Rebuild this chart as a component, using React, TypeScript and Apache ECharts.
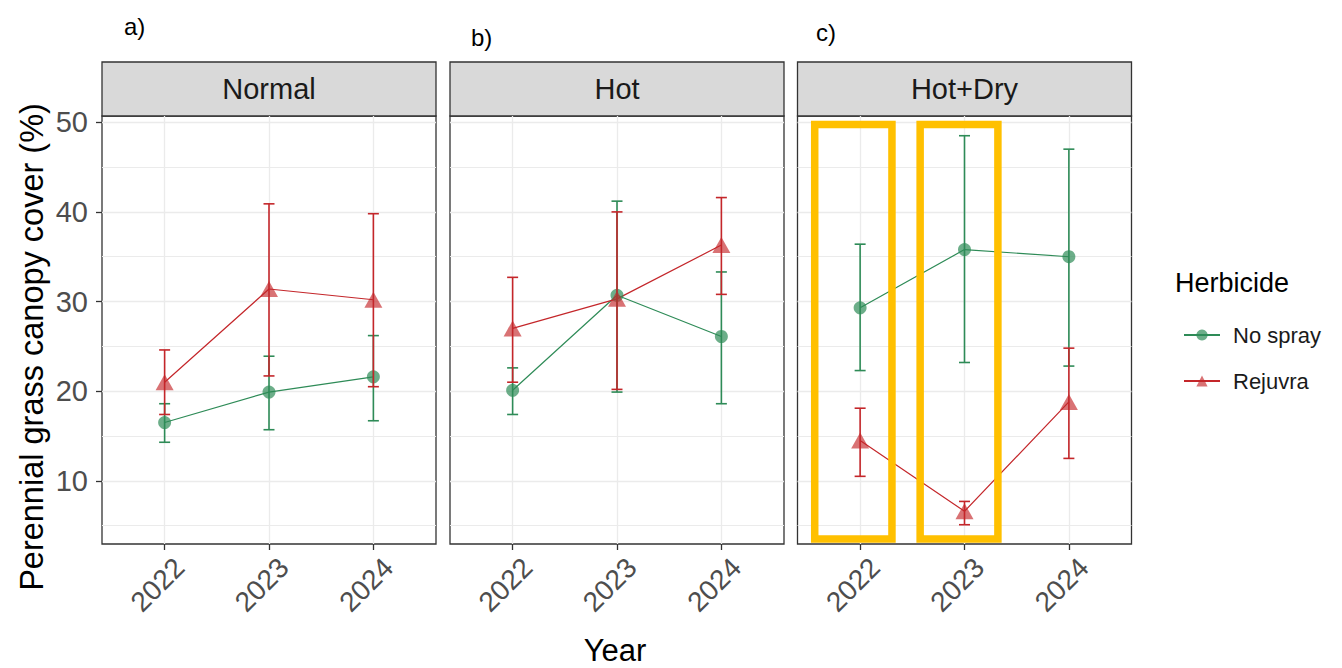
import React, { useEffect, useRef } from 'react';
import * as echarts from 'echarts';

const years = ['2022', '2023', '2024'];
const xPositions = [1, 2, 3];
const panels = ['Normal', 'Hot', 'Hot+Dry'];
const panelTags = ['a)', 'b)', 'c)'];
const treatments = ['No spray', 'Rejuvra'];
const yTicks = [10, 20, 30, 40, 50];
const yMinorTicks = [5, 15, 25, 35, 45];

// means and error bar limits, per panel (Normal, Hot, Hot+Dry), per year
const noSprayMean = [
  [16.5, 19.9, 21.6],
  [20.1, 30.7, 26.1],
  [29.3, 35.8, 35.0],
];
const noSprayLow = [
  [14.3, 15.7, 16.7],
  [17.4, 19.9, 18.6],
  [22.3, 23.2, 22.8],
];
const noSprayHigh = [
  [18.6, 23.9, 26.2],
  [22.6, 41.2, 33.3],
  [36.4, 48.5, 47.0],
];
const rejuvraMean = [
  [21.0, 31.4, 30.2],
  [27.0, 30.3, 36.3],
  [14.5, 6.6, 18.8],
];
const rejuvraLow = [
  [17.4, 21.7, 20.5],
  [21.0, 20.2, 30.8],
  [10.5, 5.1, 12.5],
];
const rejuvraHigh = [
  [24.6, 40.9, 39.8],
  [32.7, 40.0, 41.6],
  [18.1, 7.7, 24.8],
];

// highlight boxes in the Hot+Dry panel: [xFrom, xTo, yFrom, yTo] in data units
const highlightBoxes = [
  [0.565, 1.305, 3.5, 49.75],
  [1.575, 2.32, 3.5, 49.75],
];

const FONT = '"Liberation Sans", Arial, Helvetica, sans-serif';
const GREEN = '#2E8B57';
const RED = '#C4262A';
const Y_MIN = 2.95;
const Y_MAX = 50.7;

const gridLefts = [102, 450, 797.5];
const GRID_TOP = 116;
const GRID_W = 334;
const GRID_H = 428;
const STRIP_H = 54;

export default function App() {
  const ref = useRef<HTMLDivElement>(null);
  useEffect(() => {
    const chart = echarts.init(ref.current!, null, { renderer: 'svg' });

    const grids: any[] = [];
    const xAxes: any[] = [];
    const yAxes: any[] = [];
    const series: any[] = [];
    const graphics: any[] = [];

    const errorBarSeries = (name: string, color: string, pi: number, lo: number[], hi: number[]) => ({
      type: 'custom',
      name,
      xAxisIndex: pi,
      yAxisIndex: pi * 2,
      z: 3,
      silent: true,
      encode: { x: 0, y: [1, 2] },
      data: xPositions.map((x, j) => [x, lo[j], hi[j]]),
      renderItem: (params: any, api: any) => {
        const x = api.value(0);
        const pLo = api.coord([x, api.value(1)]);
        const pHi = api.coord([x, api.value(2)]);
        const hw = 5.5;
        const style = { stroke: color, lineWidth: 1.6, fill: null };
        return {
          type: 'group',
          children: [
            { type: 'line', shape: { x1: pLo[0], y1: pLo[1], x2: pHi[0], y2: pHi[1] }, style },
            { type: 'line', shape: { x1: pLo[0] - hw, y1: pLo[1], x2: pLo[0] + hw, y2: pLo[1] }, style },
            { type: 'line', shape: { x1: pHi[0] - hw, y1: pHi[1], x2: pHi[0] + hw, y2: pHi[1] }, style },
          ],
        };
      },
    });

    panels.forEach((panel, pi) => {
      grids.push({
        left: gridLefts[pi],
        top: GRID_TOP,
        width: GRID_W,
        height: GRID_H,
        show: true,
        borderColor: '#333333',
        borderWidth: 1.3,
        backgroundColor: '#FFFFFF',
        containLabel: false,
      });
      xAxes.push({
        gridIndex: pi,
        type: 'value',
        min: 0.4,
        max: 3.6,
        axisLine: { show: false },
        axisTick: {
          show: true,
          customValues: xPositions,
          length: 6,
          lineStyle: { color: '#333333', width: 1.3 },
        },
        axisLabel: {
          show: true,
          customValues: xPositions,
          formatter: (v: number) => years[Math.round(v) - 1] ?? '',
          rotate: 45,
          fontFamily: FONT,
          fontSize: 28,
          color: '#4D4D4D',
          margin: 4,
          verticalAlign: 'top',
          padding: [7, 0, 0, 0],
        },
        splitLine: { show: true, lineStyle: { color: '#EBEBEB', width: 1.3 } },
      });
      yAxes.push({
        gridIndex: pi,
        type: 'value',
        min: Y_MIN,
        max: Y_MAX,
        axisLine: { show: false },
        axisTick: {
          show: pi === 0,
          customValues: yTicks,
          length: 6,
          lineStyle: { color: '#333333', width: 1.3 },
        },
        axisLabel: {
          show: pi === 0,
          customValues: yTicks,
          fontFamily: FONT,
          fontSize: 29,
          color: '#4D4D4D',
          margin: 14,
        },
        splitLine: { show: true, lineStyle: { color: '#EBEBEB', width: 1.3 } },
      });
      yAxes.push({
        gridIndex: pi,
        type: 'value',
        min: Y_MIN,
        max: Y_MAX,
        axisLine: { show: false },
        axisTick: { show: false, customValues: yMinorTicks },
        axisLabel: { show: false, customValues: yMinorTicks },
        splitLine: { show: true, lineStyle: { color: '#EBEBEB', width: 1 } },
      });

      series.push({
        type: 'line',
        name: treatments[0],
        xAxisIndex: pi,
        yAxisIndex: pi * 2,
        data: xPositions.map((x, j) => [x, noSprayMean[pi][j]]),
        symbol: 'circle',
        symbolSize: 13,
        lineStyle: { color: GREEN, width: 1.2 },
        itemStyle: { color: GREEN, opacity: 0.7 },
        z: 2,
      });
      series.push({
        type: 'line',
        name: treatments[1],
        xAxisIndex: pi,
        yAxisIndex: pi * 2,
        data: xPositions.map((x, j) => [x, rejuvraMean[pi][j]]),
        symbol: 'triangle',
        symbolSize: [18, 16],
        lineStyle: { color: RED, width: 1.2 },
        itemStyle: { color: RED, opacity: 0.65 },
        z: 2,
      });
      series.push(errorBarSeries('No spray error', GREEN, pi, noSprayLow[pi], noSprayHigh[pi]));
      series.push(errorBarSeries('Rejuvra error', RED, pi, rejuvraLow[pi], rejuvraHigh[pi]));

      graphics.push({
        type: 'rect',
        shape: { x: gridLefts[pi], y: GRID_TOP - STRIP_H, width: GRID_W, height: STRIP_H },
        style: { fill: '#D9D9D9', stroke: '#333333', lineWidth: 1.3 },
      });
      graphics.push({
        type: 'text',
        x: gridLefts[pi] + GRID_W / 2,
        y: GRID_TOP - STRIP_H / 2,
        style: {
          text: panel,
          fontFamily: FONT,
          fontSize: 29,
          fill: '#1A1A1A',
          textAlign: 'center',
          textVerticalAlign: 'middle',
        },
      });
    });

    // highlight boxes on the Hot+Dry panel
    series.push({
      type: 'custom',
      name: 'highlight',
      xAxisIndex: 2,
      yAxisIndex: 4,
      z: 10,
      silent: true,
      clip: false,
      data: highlightBoxes,
      encode: { x: [0, 1], y: [2, 3] },
      renderItem: (params: any, api: any) => {
        const p1 = api.coord([api.value(0), api.value(3)]);
        const p2 = api.coord([api.value(1), api.value(2)]);
        return {
          type: 'rect',
          shape: { x: p1[0], y: p1[1], width: p2[0] - p1[0], height: p2[1] - p1[1] },
          style: { fill: null, stroke: '#FFC000', lineWidth: 7.5 },
        };
      },
    });

    const tagPos = [
      [124, 26],
      [471, 37],
      [816, 32],
    ];
    panelTags.forEach((t, i) => {
      graphics.push({
        type: 'text',
        x: tagPos[i][0],
        y: tagPos[i][1],
        style: {
          text: t,
          fontFamily: FONT,
          fontSize: 24,
          fill: '#000000',
          textAlign: 'left',
          textVerticalAlign: 'middle',
        },
      });
    });

    graphics.push({
      type: 'text',
      x: 32,
      y: 347,
      rotation: Math.PI / 2,
      style: {
        text: 'Perennial grass canopy cover (%)',
        fontFamily: FONT,
        fontSize: 32.5,
        fill: '#000000',
        textAlign: 'center',
        textVerticalAlign: 'middle',
      },
    });
    graphics.push({
      type: 'text',
      x: 615,
      y: 650,
      style: {
        text: 'Year',
        fontFamily: FONT,
        fontSize: 31,
        lineHeight: 31,
        fill: '#000000',
        textAlign: 'center',
        textVerticalAlign: 'middle',
      },
    });
    graphics.push({
      type: 'text',
      x: 1175,
      y: 283,
      style: {
        text: 'Herbicide',
        fontFamily: FONT,
        fontSize: 27,
        fill: '#000000',
        textAlign: 'left',
        textVerticalAlign: 'middle',
      },
    });

    chart.setOption({
      animation: false,
      backgroundColor: '#FFFFFF',
      grid: grids,
      xAxis: xAxes,
      yAxis: yAxes,
      series,
      graphic: graphics,
      legend: {
        data: treatments,
        orient: 'vertical',
        left: 1178,
        top: 318,
        itemWidth: 36,
        itemHeight: 14,
        itemGap: 22,
        textStyle: {
          fontFamily: FONT,
          fontSize: 22,
          color: '#1A1A1A',
          lineHeight: 24,
          padding: [0, 0, 0, 8],
        },
      },
    });
    return () => chart.dispose();
  }, []);
  return (
    <div
      ref={ref}
      style={{ position: 'fixed', left: 0, top: 0, width: 1342, height: 668 }}
    />
  );
}
